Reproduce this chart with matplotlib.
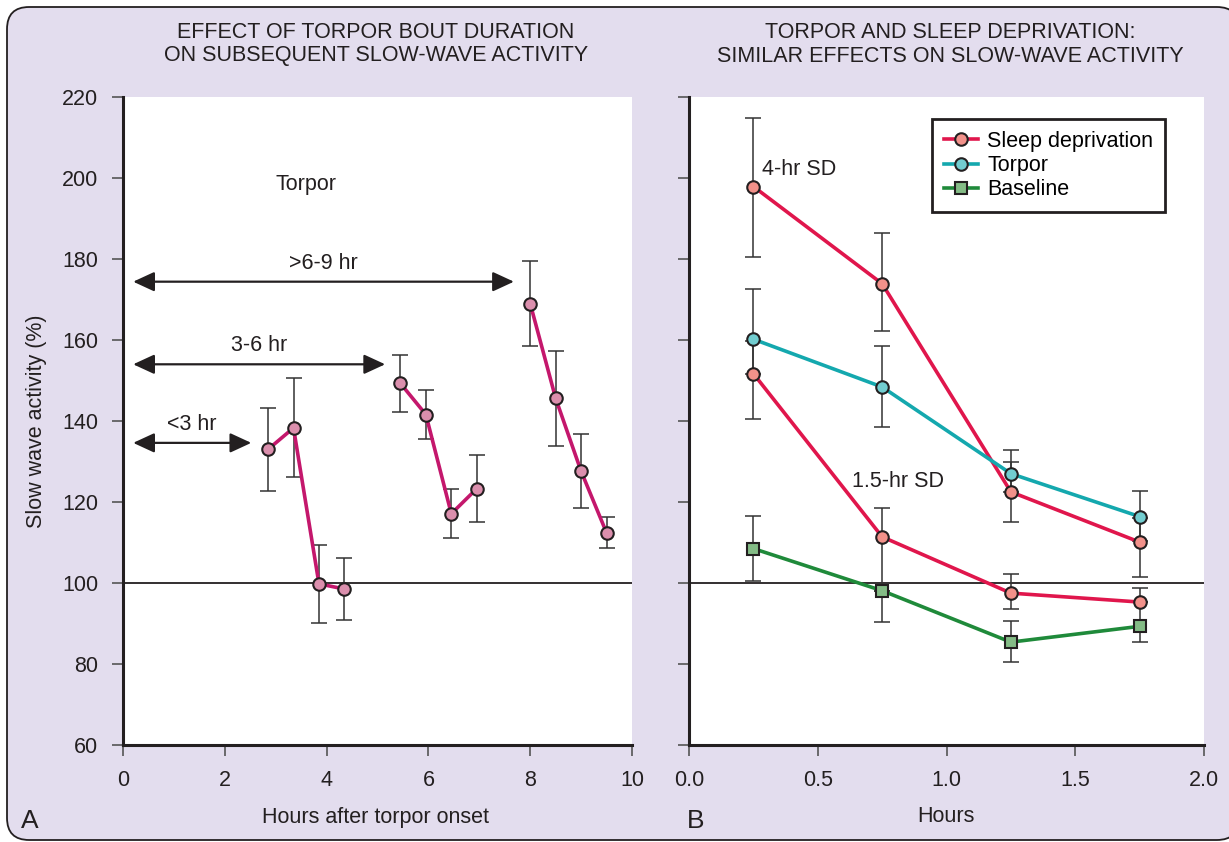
import numpy as np
import matplotlib
matplotlib.use("Agg")
import matplotlib.pyplot as plt
from matplotlib.patches import FancyBboxPatch
from matplotlib.lines import Line2D

plt.rcParams['font.family'] = ['Liberation Sans', 'DejaVu Sans']

# Panel A: slow-wave activity after torpor bouts of three lengths
short_hours = [2.85, 3.35, 3.85, 4.35]
short_swa = [133.0, 138.3, 99.8, 98.5]
short_err = [10.2, 12.2, 9.6, 7.6]

mid_hours = [5.45, 5.95, 6.45, 6.95]
mid_swa = [149.3, 141.6, 117.1, 123.3]
mid_err = [7.0, 6.0, 6.0, 8.3]

long_hours = [8.0, 8.5, 9.0, 9.5]
long_swa = [169.0, 145.6, 127.6, 112.4]
long_err = [10.6, 11.7, 9.2, 3.8]

bout_labels = ["<3 hr", "3-6 hr", ">6-9 hr"]
bout_start = [0.2, 0.2, 0.2]
bout_end = [2.52, 5.15, 7.68]
bout_level = [134.6, 154.0, 174.4]

# Panel B: sleep deprivation vs torpor vs baseline (errors as lower, upper)
hours = [0.25, 0.75, 1.25, 1.75]
sd4_swa = [197.9, 173.9, 122.5, 110.1]
sd4_lo = [17.5, 11.8, 7.5, 8.5]
sd4_hi = [16.8, 12.4, 7.5, 6.0]
sd15_swa = [151.7, 111.4, 97.5, 95.3]
sd15_lo = [11.3, 13.3, 3.9, 0.0]
sd15_hi = [8.0, 7.0, 4.8, 3.4]
torpor_swa = [160.2, 148.4, 127.0, 116.4]
torpor_lo = [8.5, 10.0, 4.5, 6.0]
torpor_hi = [12.3, 10.0, 5.8, 6.2]
baseline_swa = [108.5, 98.1, 85.4, 89.3]
baseline_lo = [8.0, 7.8, 5.0, 3.9]
baseline_hi = [8.0, 0.0, 5.3, 6.0]

ink = '#231F20'
lavender = '#E3DDEE'
bout_line, bout_face = '#C4176C', '#DB8FAD'
sd_line, sd_face = '#E0164C', '#F2918A'
tp_line, tp_face = '#14A8AE', '#72CDD0'
bl_line, bl_face = '#1F8A3A', '#84BC86'
fs = 15.5

W, H = 1229, 842
fig = plt.figure(figsize=(W / 100, H / 100), dpi=100)
fig.patch.set_facecolor('white')

# rounded lavender panel behind both plots
bg = FancyBboxPatch((7 / W, 2 / H), 1232 / W, 833 / H,
                    boxstyle="round,pad=0,rounding_size=0.018",
                    transform=fig.transFigure, facecolor=lavender,
                    edgecolor=ink, linewidth=1.3, zorder=-10,
                    mutation_aspect=W / H)
fig.patches.append(bg)


def px(x, y):
    return x / W, 1 - y / H


ax_a = fig.add_axes([123 / W, 97 / H, 509 / W, 648 / H])
ax_b = fig.add_axes([689 / W, 97 / H, 515 / W, 648 / H])

for ax in (ax_a, ax_b):
    ax.set_facecolor('white')
    ax.set_ylim(60, 220)
    ax.set_yticks(np.arange(60, 221, 20))
    for side in ('top', 'right'):
        ax.spines[side].set_visible(False)
    for side in ('left', 'bottom'):
        ax.spines[side].set_linewidth(2.2)
        ax.spines[side].set_color(ink)
    ax.tick_params(direction='out', length=8, width=1.2, color='#555555',
                   labelsize=fs, labelcolor=ink, pad=10)
    ax.axhline(100, color=ink, lw=1.3, zorder=2)

ax_a.set_xlim(0, 10)
ax_a.set_xticks(range(0, 11, 2))
ax_b.set_xlim(0, 2.0)
ax_b.set_xticks([0.0, 0.5, 1.0, 1.5, 2.0])
ax_b.set_xticklabels(['0.0', '0.5', '1.0', '1.5', '2.0'])
ax_b.tick_params(axis='y', labelleft=False)

err_kw = dict(fmt='none', ecolor='#333333', elinewidth=1.1, capsize=6,
              capthick=1.1, zorder=3)
mk_kw = dict(marker='o', markersize=9, markeredgecolor=ink,
             markeredgewidth=1.5, zorder=4)

for xs, ys, es in ((short_hours, short_swa, short_err),
                   (mid_hours, mid_swa, mid_err),
                   (long_hours, long_swa, long_err)):
    ax_a.errorbar(xs, ys, yerr=es, **err_kw)
    ax_a.plot(xs, ys, color=bout_line, lw=2.6, markerfacecolor=bout_face, **mk_kw)

for lab, x0, x1, y in zip(bout_labels, bout_start, bout_end, bout_level):
    ax_a.annotate('', xy=(x0, y), xytext=(x1, y),
                  arrowprops=dict(arrowstyle='<|-|>,head_length=0.65,head_width=0.3',
                                  mutation_scale=20, lw=1.6, color=ink,
                                  shrinkA=0, shrinkB=0))
    ax_a.text((x0 + x1) / 2, y + 4.6, lab, ha='center', va='center',
              fontsize=fs, color=ink)

ax_a.text(3.6, 198.5, 'Torpor', ha='center', va='center', fontsize=fs, color=ink)

series = [
    (sd4_swa, sd4_lo, sd4_hi, sd_line, sd_face, 'o'),
    (sd15_swa, sd15_lo, sd15_hi, sd_line, sd_face, 'o'),
    (torpor_swa, torpor_lo, torpor_hi, tp_line, tp_face, 'o'),
    (baseline_swa, baseline_lo, baseline_hi, bl_line, bl_face, 's'),
]
for ys, lo, hi, lc, fc, m in series:
    ax_b.errorbar(hours, ys, yerr=[lo, hi], **err_kw)
for ys, lo, hi, lc, fc, m in series:
    kw = dict(mk_kw)
    kw['marker'] = m
    if m == 's':
        kw['markersize'] = 8.5
    ax_b.plot(hours, ys, color=lc, lw=2.6, markerfacecolor=fc, **kw)

ax_b.text(0.284, 202, '4-hr SD', ha='left', va='center', fontsize=fs, color=ink)
ax_b.text(0.634, 125.1, '1.5-hr SD', ha='left', va='center', fontsize=fs, color=ink)

handles = [
    Line2D([], [], color=sd_line, lw=2.6, marker='o', markersize=9,
           markerfacecolor=sd_face, markeredgecolor=ink, markeredgewidth=1.5),
    Line2D([], [], color=tp_line, lw=2.6, marker='o', markersize=9,
           markerfacecolor=tp_face, markeredgecolor=ink, markeredgewidth=1.5),
    Line2D([], [], color=bl_line, lw=2.6, marker='s', markersize=8.5,
           markerfacecolor=bl_face, markeredgecolor=ink, markeredgewidth=1.5),
]
leg = ax_b.legend(handles, ['Sleep deprivation', 'Torpor', 'Baseline'],
                  loc='upper right', bbox_to_anchor=(0.924, 0.966),
                  borderaxespad=0, fancybox=False, framealpha=1,
                  edgecolor=ink, fontsize=fs, handlelength=1.6,
                  handletextpad=0.4, labelspacing=0.15, borderpad=0.55)
leg.get_frame().set_linewidth(2)

# titles and labels placed in figure pixels
fig.text(*px(376, 33), 'EFFECT OF TORPOR BOUT DURATION', ha='center', va='center',
         fontsize=fs, color=ink)
fig.text(*px(376, 56), 'ON SUBSEQUENT SLOW-WAVE ACTIVITY', ha='center', va='center',
         fontsize=fs, color=ink)
fig.text(*px(950, 33), 'TORPOR AND SLEEP DEPRIVATION:', ha='center', va='center',
         fontsize=fs, color=ink)
fig.text(*px(950, 56), 'SIMILAR EFFECTS ON SLOW-WAVE ACTIVITY', ha='center', va='center',
         fontsize=fs, color=ink)

fig.text(*px(37, 421), 'Slow wave activity (%)', rotation=90, ha='center', va='center',
         fontsize=fs, color=ink)
fig.text(*px(376, 817), 'Hours after torpor onset', ha='center', va='center',
         fontsize=fs, color=ink)
fig.text(*px(946, 817), 'Hours', ha='center', va='center', fontsize=fs, color=ink)
fig.text(*px(30, 821), 'A', ha='center', va='center', fontsize=19, color=ink)
fig.text(*px(696, 821), 'B', ha='center', va='center', fontsize=19, color=ink)

fig.savefig('out.png', dpi=100)
